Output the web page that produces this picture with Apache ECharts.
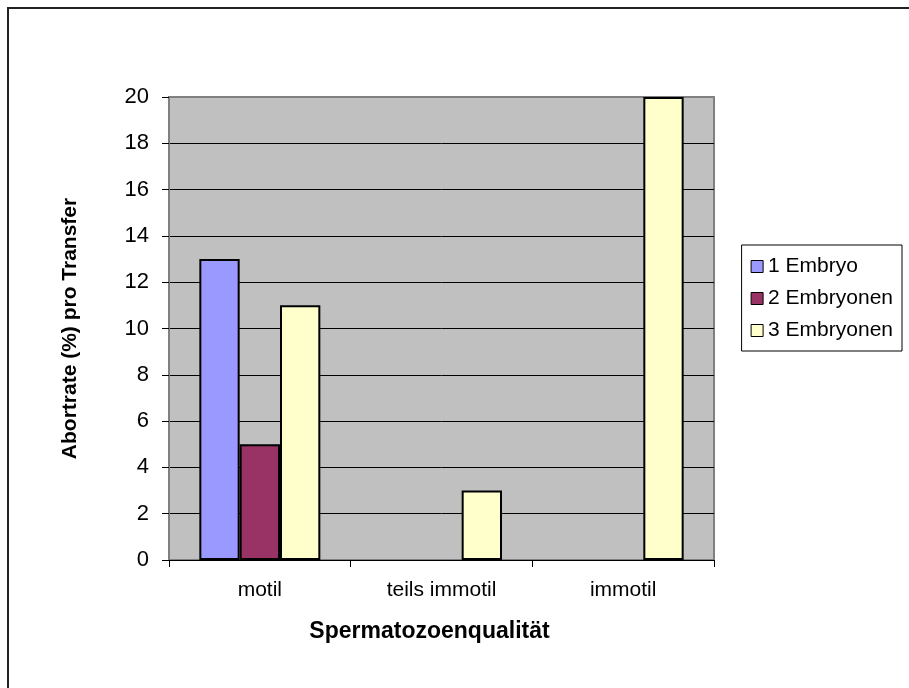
<!DOCTYPE html>
<html>
<head>
<meta charset="utf-8">
<style>
  html, body { margin: 0; padding: 0; background: #ffffff; }
  #chart { width: 909px; height: 688px; }
</style>
<script src="https://cdn.jsdelivr.net/npm/echarts@6/dist/echarts.min.js"></script>
</head>
<body>
<div id="chart"></div>
<script>
// Abortrate je Transfer nach Spermatozoenqualität und Anzahl transferierter Embryonen
const categories = ['motil', 'teils immotil', 'immotil'];
const seriesNames = ['1 Embryo', '2 Embryonen', '3 Embryonen'];
const oneEmbryo = [13, null, null];
const twoEmbryos = [5, null, null];
const threeEmbryos = [11, 3, 20];
const yTicks = [0, 2, 4, 6, 8, 10, 12, 14, 16, 18, 20];

const FONT = '"Liberation Sans", Arial, sans-serif';
const colors = ['#9999FF', '#993366', '#FFFFCC'];
const values = [oneEmbryo, twoEmbryos, threeEmbryos];

// gridlines are black; the topmost one coincides with the grey plot frame
const gridLineColors = yTicks.map((t, i) => (i === yTicks.length - 1 ? '#808080' : '#000000'));

const chart = echarts.init(document.getElementById('chart'), null, { renderer: 'canvas' });

chart.setOption({
  backgroundColor: '#ffffff',
  animation: false,
  graphic: [{
    type: 'rect',
    shape: { x: 8, y: 8, width: 1200, height: 1200 },
    style: { fill: 'none', stroke: '#222222', lineWidth: 2 },
    silent: true
  }],
  grid: {
    left: 169, top: 97, right: 195, bottom: 128,
    show: true,
    backgroundColor: '#C0C0C0',
    borderColor: '#808080',
    borderWidth: 2
  },
  legend: {
    orient: 'vertical',
    right: 7,
    top: 245,
    padding: [11, 9, 10, 9],
    itemGap: 11,
    itemWidth: 12,
    itemHeight: 12,
    borderColor: '#000000',
    borderWidth: 1,
    backgroundColor: '#ffffff',
    data: seriesNames.map(n => ({ name: n, icon: 'rect' })),
    textStyle: { fontFamily: FONT, fontSize: 21, color: '#000000' },
    itemStyle: { borderColor: '#000000', borderWidth: 1 }
  },
  xAxis: {
    type: 'category',
    data: categories,
    name: 'Spermatozoenqualität',
    nameLocation: 'middle',
    nameGap: 60,
    nameTextStyle: {
      fontFamily: FONT, fontSize: 23, fontWeight: 'bold', color: '#000000',
      padding: [0, 24, 0, 0]
    },
    axisLine: { show: true, lineStyle: { color: '#000000', width: 1 } },
    axisTick: { show: true, length: 7, lineStyle: { color: '#000000' } },
    axisLabel: { fontFamily: FONT, fontSize: 21, color: '#000000', margin: 20 },
    splitLine: { show: false }
  },
  yAxis: {
    type: 'value',
    min: yTicks[0],
    max: yTicks[yTicks.length - 1],
    interval: yTicks[1] - yTicks[0],
    name: 'Abortrate (%) pro Transfer',
    nameLocation: 'middle',
    nameGap: 88,
    nameTextStyle: { fontFamily: FONT, fontSize: 21, fontWeight: 'bold', color: '#000000' },
    axisLine: { show: true, lineStyle: { color: '#808080', width: 2 } },
    axisTick: { show: true, length: 7, lineStyle: { color: '#000000' } },
    axisLabel: { fontFamily: FONT, fontSize: 22, color: '#000000', margin: 20 },
    splitLine: { show: true, lineStyle: { color: gridLineColors, width: 1 } }
  },
  series: seriesNames.map((name, i) => ({
    name: name,
    type: 'bar',
    data: values[i],
    barGap: '0%',
    barCategoryGap: '33.4%',
    itemStyle: { color: colors[i], borderColor: '#000000', borderWidth: 2 }
  }))
});
</script>
</body>
</html>
